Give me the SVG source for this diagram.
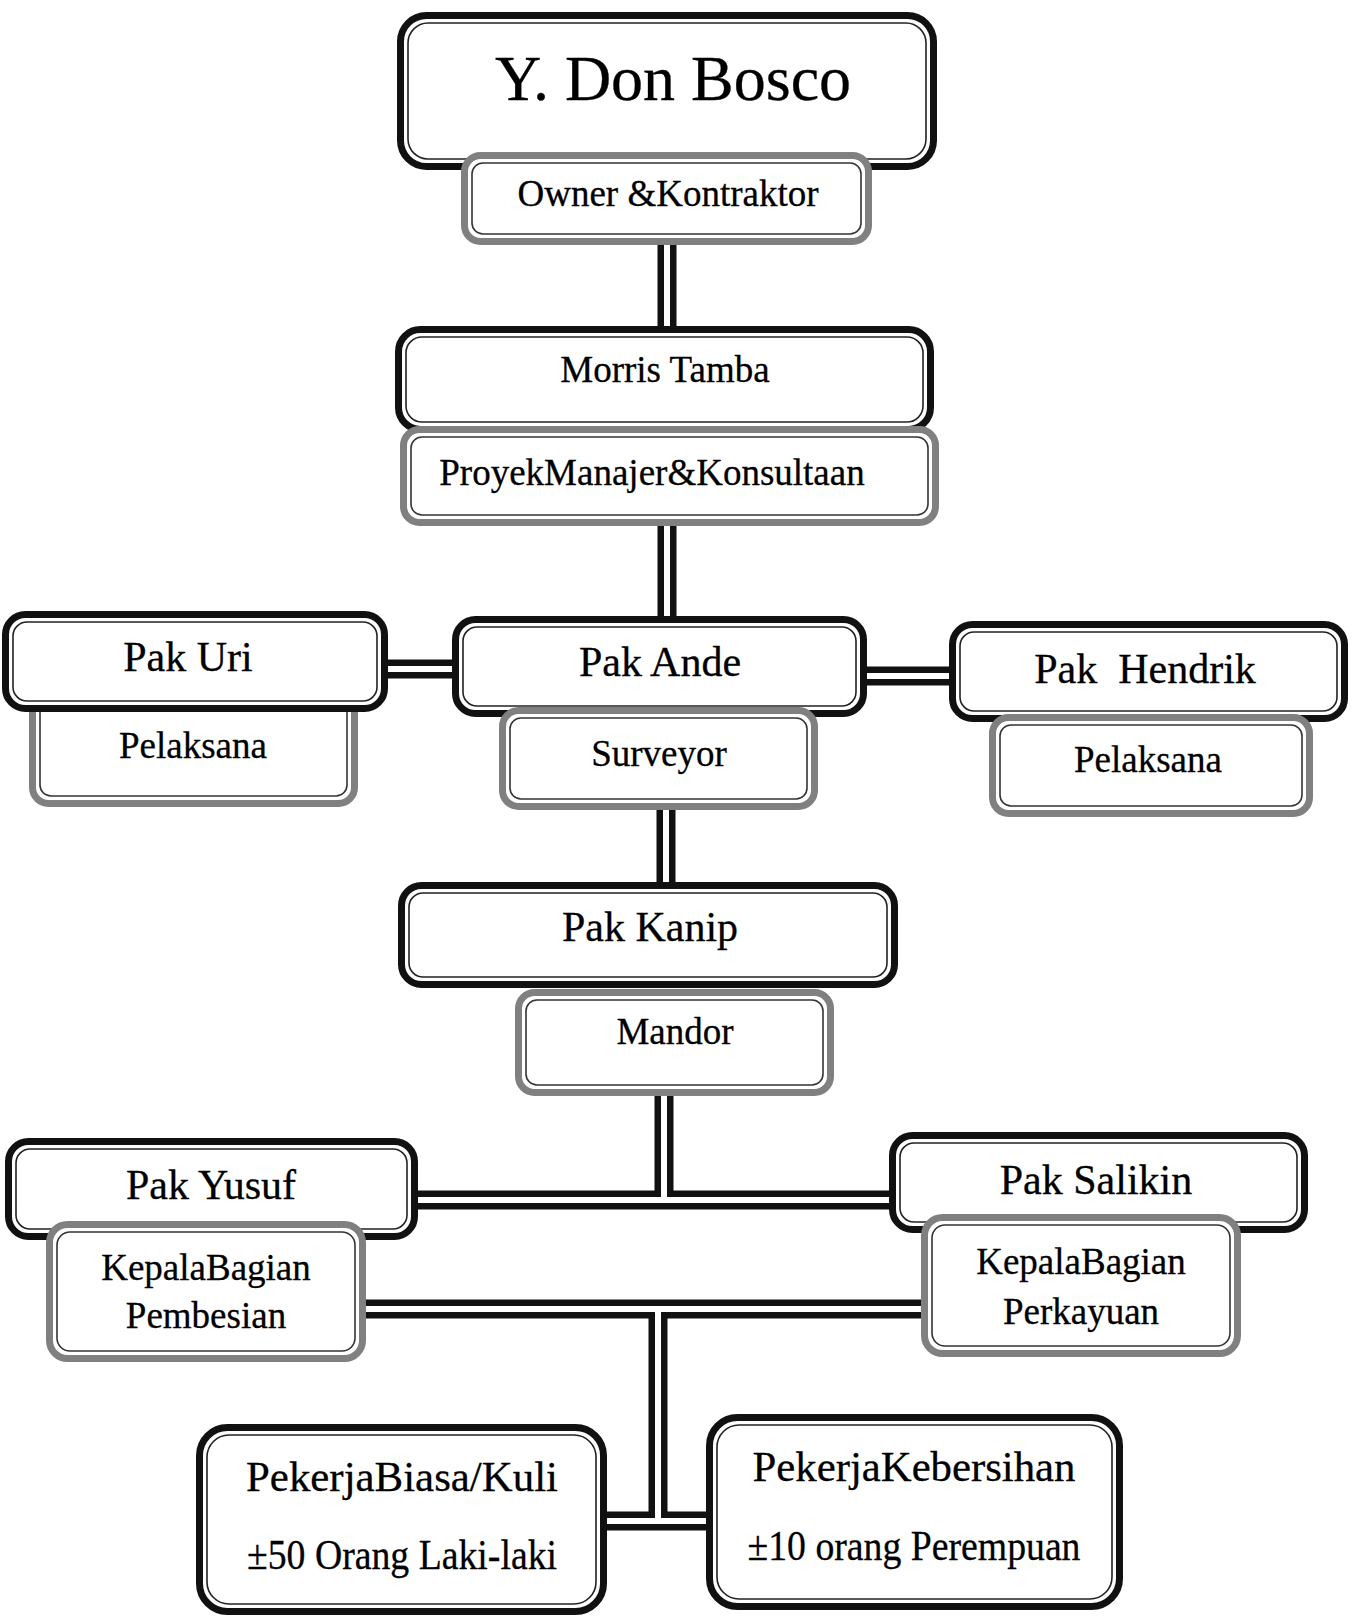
<svg xmlns="http://www.w3.org/2000/svg" width="1358" height="1618" viewBox="0 0 1358 1618">
<style>
text{font-family:"Liberation Serif","Times New Roman",serif;fill:#000;stroke:#000;stroke-width:0.3;text-anchor:middle}
.big{font-size:64px}
.nm{font-size:42px}
.rl{font-size:37px}
.po{fill:#fff;stroke:#111;stroke-width:7}
.pi{fill:none;stroke:#222;stroke-width:1.6}
.ro{fill:#fff;stroke:#808080;stroke-width:7}
.ri{fill:none;stroke:#333;stroke-width:1.6}
.cb{stroke:#111;stroke-width:19;fill:none}
.cw{stroke:#fff;stroke-width:6;fill:none}
</style>
<rect width="1358" height="1618" fill="#fff"/>
<g id="connectors">
<path class="cb" d="M667 245V330M667 522V620M384 669H456M863 676H953M666 806V886M664 1092V1200M414 1200H893M362 1309H925M658 1309V1521M603 1521H710"/>
<path class="cw" d="M667 245V330M667 522V620M384 669H456M863 676H953M666 806V886M664 1092V1200M414 1200H893M362 1309H925M658 1309V1521M603 1521H710"/>
</g>
<g id="don-bosco">
<rect class="po" x="400.5" y="15.5" width="533" height="151" rx="26"/>
<rect class="pi" x="408" y="23" width="518" height="136" rx="20"/>
<text class="big" x="673" y="100">Y. Don Bosco</text>
</g>
<g id="owner">
<rect class="ro" x="464.5" y="155.5" width="404" height="86" rx="16"/>
<rect class="ri" x="472" y="163" width="389" height="71" rx="11"/>
<text class="rl" x="668" y="206">Owner &amp;Kontraktor</text>
</g>
<g id="morris">
<rect class="po" x="398.5" y="329.5" width="532" height="100" rx="22"/>
<rect class="pi" x="406" y="337" width="517" height="85" rx="16"/>
<text class="rl" x="665" y="382">Morris Tamba</text>
</g>
<g id="proyek">
<rect class="ro" x="403.5" y="429.5" width="532" height="93" rx="16"/>
<rect class="ri" x="411" y="437" width="517" height="78" rx="11"/>
<text class="rl" x="652" y="485">ProyekManajer&amp;Konsultaan</text>
</g>
<g id="pelaksana-l">
<rect class="ro" x="32.5" y="690" width="322" height="113.5" rx="16"/>
<rect class="ri" x="40" y="697" width="307" height="99" rx="11"/>
<text class="rl" x="193" y="758">Pelaksana</text>
</g>
<g id="pak-uri">
<rect class="po" x="5.5" y="614.5" width="379" height="94" rx="20"/>
<rect class="pi" x="13" y="622" width="364" height="79" rx="14"/>
<text class="nm" x="188" y="671">Pak Uri</text>
</g>
<g id="pak-ande">
<rect class="po" x="455.5" y="619.5" width="408" height="94" rx="20"/>
<rect class="pi" x="463" y="627" width="393" height="79" rx="14"/>
<text class="nm" x="660" y="676">Pak Ande</text>
</g>
<g id="surveyor">
<rect class="ro" x="502.5" y="710.5" width="312" height="96" rx="16"/>
<rect class="ri" x="510" y="718" width="297" height="81" rx="11"/>
<text class="rl" x="659" y="766">Surveyor</text>
</g>
<g id="pak-hendrik">
<rect class="po" x="952.5" y="624.5" width="392" height="94" rx="20"/>
<rect class="pi" x="960" y="632" width="377" height="79" rx="14"/>
<text class="nm" x="1145" y="683" style="white-space:pre">Pak  Hendrik</text>
</g>
<g id="pelaksana-r">
<rect class="ro" x="992.5" y="717.5" width="317" height="96" rx="16"/>
<rect class="ri" x="1000" y="725" width="302" height="81" rx="11"/>
<text class="rl" x="1148" y="772">Pelaksana</text>
</g>
<g id="pak-kanip">
<rect class="po" x="401.5" y="885.5" width="493" height="99" rx="20"/>
<rect class="pi" x="409" y="893" width="478" height="84" rx="14"/>
<text class="nm" x="650" y="941">Pak Kanip</text>
</g>
<g id="mandor">
<rect class="ro" x="518.5" y="992.5" width="312" height="100" rx="16"/>
<rect class="ri" x="526" y="1000" width="297" height="85" rx="11"/>
<text class="rl" x="675" y="1044">Mandor</text>
</g>
<g id="pak-yusuf">
<rect class="po" x="8.5" y="1141.5" width="406" height="95" rx="20"/>
<rect class="pi" x="16" y="1149" width="391" height="80" rx="14"/>
<text class="nm" x="211" y="1199">Pak Yusuf</text>
</g>
<g id="kb-pembesian">
<rect class="ro" x="49.5" y="1224.5" width="313" height="134" rx="18"/>
<rect class="ri" x="57" y="1232" width="298" height="119" rx="13"/>
<text class="rl" x="206" y="1280">KepalaBagian</text>
<text class="rl" x="206" y="1328">Pembesian</text>
</g>
<g id="pak-salikin">
<rect class="po" x="892.5" y="1135.5" width="412" height="94" rx="20"/>
<rect class="pi" x="900" y="1143" width="397" height="79" rx="14"/>
<text class="nm" x="1096" y="1194">Pak Salikin</text>
</g>
<g id="kb-perkayuan">
<rect class="ro" x="924.5" y="1217.5" width="313" height="136" rx="18"/>
<rect class="ri" x="932" y="1225" width="298" height="121" rx="13"/>
<text class="rl" x="1081" y="1274">KepalaBagian</text>
<text class="rl" x="1081" y="1324">Perkayuan</text>
</g>
<g id="pekerja-biasa">
<rect class="po" x="199.5" y="1427.5" width="404" height="184" rx="28"/>
<rect class="pi" x="207" y="1435" width="389" height="169" rx="22"/>
<text class="nm" x="402" y="1491" textLength="312" lengthAdjust="spacingAndGlyphs">PekerjaBiasa/Kuli</text>
<text class="nm" x="402" y="1569" textLength="310" lengthAdjust="spacingAndGlyphs">±50 Orang Laki-laki</text>
</g>
<g id="pekerja-kebersihan">
<rect class="po" x="709.5" y="1417.5" width="410" height="189" rx="28"/>
<rect class="pi" x="717" y="1425" width="395" height="174" rx="22"/>
<text class="nm" x="914" y="1481" textLength="323" lengthAdjust="spacingAndGlyphs">PekerjaKebersihan</text>
<text class="nm" x="914" y="1560" textLength="333" lengthAdjust="spacingAndGlyphs">±10 orang Perempuan</text>
</g>
</svg>
